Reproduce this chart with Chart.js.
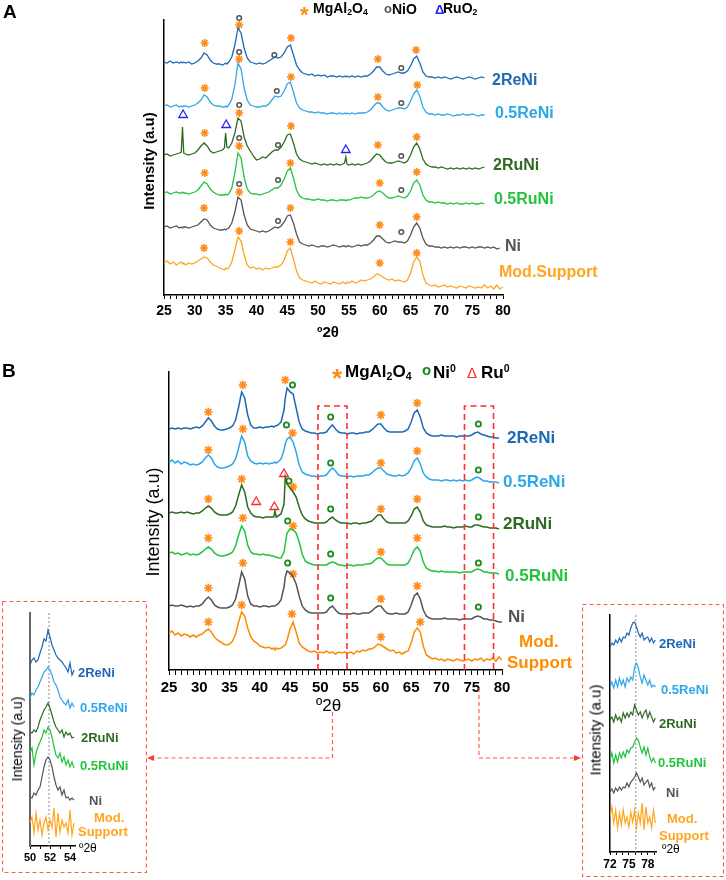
<!DOCTYPE html>
<html>
<head>
<meta charset="utf-8">
<script src="https://cdn.jsdelivr.net/npm/chart.js@4.4.0/dist/chart.umd.min.js"></script>
<style>
    body { margin: 0; width: 726px; height: 880px; position: relative; background: #fff; overflow: hidden;
           font-family: Arial, "Liberation Sans", sans-serif; }
    canvas { position: absolute; }
    .lbl { position: absolute; white-space: nowrap; line-height: 1; transform: translateY(-50%); }
    .rot { position: absolute; white-space: nowrap; line-height: 1; transform: translate(-50%, -50%) rotate(-90deg); }
    .lbl sub { font-size: 0.62em; vertical-align: -0.25em; }
    .lbl sup { font-size: 0.62em; vertical-align: 0.55em; }
</style>
</head>
<body>
<canvas id="chartA" width="726" height="340" style="left:0;top:0"></canvas>
<canvas id="chartB" width="726" height="540" style="left:0;top:340px"></canvas>
<canvas id="insetL" width="145" height="272" style="left:2px;top:601px"></canvas>
<canvas id="insetR" width="142" height="273" style="left:582px;top:604px"></canvas>

<script>
// ---------- Panel A : calcined samples (2θ grid, intensities in a.u. with vertical offsets) ----------
const twoThetaA = [
    25, 25.5, 26, 26.5, 27, 27.5, 27.8, 28, 28.2,
    28.5, 29, 29.5, 30, 30.5, 31, 31.5, 32, 32.5, 33, 33.5, 34, 34.5, 34.8, 35, 35.2,
    35.5, 36, 36.5, 37, 37.5, 38, 38.5, 39, 39.5, 40, 40.5, 41, 41.5, 42, 42.5, 43, 43.5, 44, 44.5, 45,
    45.5, 46, 46.5, 47, 47.5, 48, 48.5, 49, 49.5, 50, 50.5, 51, 51.5, 52, 52.5, 53, 53.5, 54, 54.3, 54.5, 54.7,
    55, 55.5, 56, 56.5, 57, 57.5, 58, 58.5, 59, 59.5, 60, 60.5, 61, 61.5, 62, 62.5, 63, 63.5, 64, 64.5, 65, 65.5, 66, 66.5, 67, 67.5,
    68, 68.5, 69, 69.5, 70, 70.5, 71, 71.5, 72, 72.5, 73, 73.5, 74, 74.5, 75, 75.5, 76, 76.5, 77, 77.5, 78, 78.5, 79, 79.5, 80
];
const a2ReNi = [
    233, 232, 234, 232, 233, 232, 233, 232, 233,
    232, 233, 231, 232, 234, 237, 242, 240, 235, 232, 231, 231, 230, 231, 232, 231,
    233, 238, 250, 267, 262, 247, 237, 233, 232, 231, 232, 231, 232, 234, 236, 238, 237, 238, 242, 248,
    250, 240, 230, 225, 222, 221, 220, 221, 219, 220, 219, 220, 218, 219, 219, 218, 219, 218, 219, 218, 219,
    218, 219, 218, 219, 218, 219, 219, 221, 224, 228, 228, 224, 221, 220, 221, 222, 223, 222, 222, 224, 229, 236, 239, 232, 223, 219,
    218, 218, 217, 218, 217, 218, 217, 216, 217, 218, 217, 216, 217, 218, 217, 216, 217, 218, 217, null, null, null, null, null, null
];
const a05ReNi = [
    189, 190, 188, 189, 190, 188, 189, 188, 189,
    189, 188, 189, 190, 192, 195, 200, 198, 193, 190, 189, 189, 188, 188, 189, 188,
    190, 196, 210, 232, 226, 207, 195, 190, 189, 188, 188, 189, 189, 191, 195, 199, 198, 199, 204, 211,
    213, 203, 192, 187, 185, 184, 183, 183, 182, 183, 182, 182, 181, 182, 182, 181, 182, 181, 182, 181, 182,
    181, 182, 181, 182, 182, 182, 183, 185, 189, 192, 192, 188, 185, 184, 185, 186, 187, 187, 186, 188, 194, 201, 205, 199, 188, 183,
    181, 181, 180, 181, 180, 180, 181, 180, 179, 180, 180, 181, 180, 180, 181, 180, 179, 180, 180, null, null, null, null, null, null
];
const a2RuNi = [
    140, 141, 139, 140, 141, 142, 143, 168, 142,
    141, 140, 141, 142, 145, 149, 152, 149, 144, 142, 143, 144, 145, 147, 162, 148,
    147, 152, 162, 177, 174, 158, 149, 144, 139, 135, 136, 138, 137, 140, 143, 145, 145, 148, 153, 160,
    161, 152, 141, 136, 134, 133, 132, 131, 132, 131, 130, 131, 130, 131, 130, 131, 130, 131, 132, 138, 131,
    130, 131, 130, 131, 130, 131, 132, 134, 138, 141, 140, 136, 133, 132, 132, 133, 134, 133, 132, 134, 140, 148, 152, 146, 136, 131,
    129, 128, 128, 127, 128, 127, 126, 127, 126, 127, 126, 127, 126, 127, 126, 127, 126, 127, 128, null, null, null, null, null, null
];
const a05RuNi = [
    102, 103, 101, 102, 103, 102, 102, 103, 102,
    102, 101, 102, 103, 105, 109, 113, 111, 106, 103, 101, 100, 100, 100, 101, 100,
    101, 107, 122, 142, 137, 118, 106, 102, 101, 101, 100, 101, 102, 103, 105, 107, 107, 110, 116, 124,
    127, 117, 105, 99, 97, 96, 96, 95, 95, 96, 95, 95, 94, 95, 95, 94, 95, 95, 95, 94, 95,
    95, 96, 97, 97, 98, 97, 97, 98, 100, 103, 104, 102, 99, 97, 97, 98, 99, 98, 97, 99, 104, 112, 115, 110, 100, 95,
    93, 93, 92, 93, 92, 92, 91, 92, 91, 92, 91, 91, 92, 91, 92, 91, 91, 92, 91, null, null, null, null, null, null
];
const aNi = [
    68, 69, 67, 68, 69, 67, 68, 67, 68,
    68, 67, 68, 69, 70, 73, 76, 75, 70, 67, 66, 65, 65, 66, 65, 66,
    67, 72, 83, 98, 95, 80, 70, 66, 65, 64, 63, 64, 63, 64, 66, 68, 67, 69, 73, 79,
    80, 72, 61, 53, 51, 50, 49, 50, 49, 48, 49, 49, 48, 49, 50, 49, 48, 49, 49, 48, 49,
    49, 48, 49, 50, 49, 50, 50, 52, 55, 59, 59, 56, 53, 52, 53, 54, 53, 53, 52, 54, 60, 68, 72, 67, 57, 51,
    49, 49, 48, 48, 47, 48, 47, 48, 47, 48, 47, 48, 48, 47, 48, 47, 48, 48, 47, 48, 47, 48, 46, 47, null
];
const aSupport = [
    32, 34, 31, 33, 30, 32, 33, 31, 32,
    30, 32, 31, 32, 34, 36, 38, 37, 33, 30, 29, 27, 26, 25, 27, 26,
    27, 33, 45, 58, 54, 40, 30, 27, 28, 26, 27, 25, 27, 26, 27, 28, 28, 30, 35, 44,
    47, 36, 24, 17, 15, 14, 13, 12, 14, 12, 11, 13, 12, 11, 13, 12, 11, 13, 12, 11, 13,
    12, 14, 12, 13, 15, 14, 15, 16, 18, 21, 20, 18, 16, 15, 16, 14, 15, 14, 13, 15, 22, 33, 38, 34, 20, 12,
    10, 9, 10, 8, 9, 10, 8, 9, 8, 7, 9, 8, 7, 9, 8, 7, 8, 7, 10, 7, 9, 6, 10, 6, 8
];
// phase markers [2θ, height]
const aSpinel = [
    [31.6, 252], [37.2, 270], [45.6, 257], [59.7, 236], [65.9, 245],
    [31.6, 207], [37.2, 236], [45.6, 218], [59.7, 198], [66.1, 210],
    [31.6, 162], [37.2, 182], [45.6, 169], [59.7, 150], [66, 158],
    [31.6, 122], [37.2, 149], [45.5, 132], [60, 112], [66, 123],
    [31.5, 87], [37.2, 103], [45.5, 87], [60, 70], [66, 78],
    [31.5, 47], [37.2, 64], [45.5, 53], [60, 32], [66, 42]
];
const aNiO = [
    [37.2, 277], [42.9, 240], [63.5, 227],
    [37.2, 243], [43.3, 204], [63.5, 192],
    [37.2, 190], [43.5, 150], [63.5, 139],
    [37.2, 157], [43.5, 115], [63.5, 105],
    [37.2, 111], [43.5, 74], [63.5, 63]
];
const aRuO2 = [[28.1, 180], [35.1, 170], [54.5, 145]];

// ---------- Panel B : reduced samples ----------
const twoThetaB = [
    25, 25.5, 26, 26.5, 27, 27.5, 28, 28.5, 29, 29.5, 30, 30.5, 31, 31.5, 32, 32.5, 33,
    33.5, 34, 34.5, 35, 35.5, 36, 36.5, 37, 37.5, 38, 38.5, 39, 39.5, 40, 40.5, 41, 41.5, 42,
    42.3, 42.5, 42.7, 43, 43.5, 44, 44.2,
    44.5, 45, 45.5, 46, 46.5, 47, 47.5, 48, 48.5, 49, 49.5, 50, 50.5, 51, 51.5, 52, 52.5, 53, 53.5, 54, 54.5, 55, 55.5, 56, 56.5, 57,
    57.5, 58, 58.5, 59, 59.5, 60, 60.5, 61, 61.5, 62, 62.5, 63, 63.5, 64, 64.5, 65, 65.5, 66, 66.5, 67, 67.5, 68, 68.5,
    69, 69.5, 70, 70.5, 71, 71.5, 72, 72.5, 73, 73.5, 74, 74.5, 75, 75.5, 76, 76.5, 77, 77.5, 78, 78.5, 79, 79.5, 80
];
const b2ReNi = [
    241, 242, 241, 242, 241, 242, 242, 241, 242, 243, 242, 244, 248, 252, 249, 244, 241,
    240, 240, 241, 242, 244, 250, 263, 278, 272, 255, 245, 242, 242, 243, 242, 243, 243, 244,
    243, 244, 244, 245, 248, 260, 272,
    282, 278, 276, 262, 248, 241, 239, 238, 237, 237, 236, 237, 237, 238, 242, 245, 241, 238, 237, 237, 236, 237, 237, 236, 237, 237,
    238, 238, 240, 243, 246, 246, 242, 239, 238, 238, 238, 238, 238, 239, 241, 248, 257, 260, 253, 242, 237, 235, 234,
    234, 234, 235, 234, 234, 234, 234, 233, 234, 234, 234, 234, 235, 237, 238, 236, 235, 234, 233, 233, 232, 232, null
];
const b05ReNi = [
    208, 210, 207, 209, 206, 208, 207, 205, 206, 205, 206, 208, 212, 215, 212, 206, 203,
    202, 202, 203, 204, 206, 211, 222, 234, 228, 214, 209, 207, 206, 207, 206, 207, 206, 207,
    207, 208, 207, 208, 211, 220, 226,
    231, 233, 228, 218, 205, 198, 196, 195, 194, 194, 193, 194, 194, 195, 199, 202, 199, 195, 194, 194, 193, 194, 193, 194, 194, 194,
    195, 195, 197, 200, 202, 202, 199, 196, 195, 194, 194, 195, 194, 195, 197, 202, 209, 212, 206, 197, 193, 191, 190,
    190, 190, 189, 190, 190, 189, 190, 189, 190, 189, 190, 189, 190, 192, 193, 191, 189, 189, 188, 188, 188, 187, null
];
const b2RuNi = [
    157, 158, 157, 157, 158, 157, 158, 157, 156, 157, 157, 159, 162, 164, 162, 158, 156,
    155, 155, 155, 156, 158, 164, 175, 185, 178, 163, 157, 154, 153, 153, 152, 153, 153, 153,
    153, 159, 153, 154, 156, 166, 193,
    186, 182, 178, 173, 163, 155, 151, 149, 148, 147, 147, 147, 147, 148, 151, 153, 150, 148, 147, 147, 147, 146, 147, 147, 146, 147,
    147, 148, 149, 152, 155, 155, 151, 148, 147, 147, 147, 147, 147, 147, 149, 154, 161, 163, 158, 149, 145, 144, 143,
    143, 143, 143, 144, 143, 143, 142, 143, 143, 143, 144, 143, 143, 145, 145, 144, 143, 143, 142, 142, 142, 141, null
];
const b05RuNi = [
    117, 118, 116, 117, 115, 116, 117, 115, 116, 115, 116, 118, 121, 123, 121, 117, 115,
    114, 114, 115, 116, 118, 124, 135, 144, 139, 125, 118, 116, 116, 115, 116, 115, 115, 114,
    114, 113, 113, 112, 112, 118, 126,
    137, 141, 140, 137, 128, 116, 109, 107, 106, 105, 105, 105, 105, 105, 107, 108, 107, 105, 105, 104, 105, 105, 104, 105, 105, 105,
    106, 106, 107, 110, 112, 112, 109, 106, 105, 105, 105, 105, 105, 105, 107, 113, 120, 123, 119, 108, 102, 100, 99,
    99, 98, 99, 98, 98, 98, 98, 98, 97, 98, 98, 98, 98, 100, 101, 100, 98, 98, 97, 97, 97, 96, null
];
const bNi = [
    64, 65, 64, 64, 65, 64, 63, 64, 63, 64, 64, 66, 70, 73, 70, 65, 63,
    62, 62, 62, 63, 65, 71, 84, 98, 91, 74, 66, 64, 64, 63, 64, 64, 63, 64,
    64, 64, 65, 66, 70, 83, 93,
    99, 97, 93, 86, 74, 64, 60, 58, 57, 57, 57, 57, 57, 58, 62, 64, 60, 57, 56, 56, 56, 56, 57, 56, 56, 57,
    57, 57, 59, 62, 64, 64, 60, 57, 56, 56, 57, 56, 56, 56, 58, 65, 74, 77, 71, 60, 54, 52, 51,
    51, 51, 51, 52, 51, 51, 51, 51, 50, 51, 51, 51, 51, 53, 54, 53, 51, 51, 50, 50, 49, 48, 48
];
const bSupport = [
    37, 39, 35, 37, 34, 36, 35, 33, 35, 33, 35, 36, 39, 41, 38, 33, 30,
    28, 26, 25, 26, 29, 36, 48, 58, 54, 42, 33, 29, 27, 24, 23, 22, 23, 21,
    22, 20, 22, 21, 22, 24, 25,
    30, 41, 48, 38, 27, 23, 21, 19, 18, 19, 17, 18, 17, 19, 17, 18, 16, 18, 17, 18, 17, 18, 16, 19, 18, 20,
    19, 21, 21, 23, 26, 25, 23, 21, 19, 20, 17, 18, 16, 18, 19, 27, 38, 42, 38, 24, 15, 13, 11,
    12, 10, 11, 9, 11, 10, 9, 11, 10, 9, 10, 11, 9, 11, 10, 12, 9, 11, 10, 12, 9, 13, 10
];
const bSpinel = [
    [31.5, 258], [37.2, 285], [44.2, 290], [60, 255], [66, 267],
    [31.5, 220], [37.2, 241], [45.4, 237], [60, 207], [66, 219],
    [31.5, 171], [37, 191], [45.5, 183], [60, 161], [66, 171],
    [31.5, 132], [37.2, 152], [45.5, 144], [60, 118], [66, 132],
    [31.5, 82], [37.2, 107], [45.5, 96], [60, 71], [66, 84],
    [31.5, 48], [37, 65], [45.3, 56], [60, 33], [66.5, 48]
];
const bNi0 = [
    [45.4, 285], [51.7, 253], [76.1, 246],
    [44.4, 245], [51.7, 207], [76.1, 200],
    [44.8, 189], [51.7, 161], [76.1, 153],
    [44.6, 149], [51.7, 116], [76.1, 107],
    [44.6, 107], [51.7, 72], [76.1, 63]
];
const bRu0 = [[39.4, 168], [42.4, 163], [44.0, 196]];
const zoomRanges = [[49.6, 54.4], [73.8, 78.6]];
const zoomTop = 264;

// ---------- Inset: Ni(200) region ----------
const twoThetaL = [50, 50.2, 50.4, 50.6, 50.8, 51, 51.2, 51.4, 51.6, 51.8, 52, 52.2, 52.4, 52.6, 52.8, 53, 53.2, 53.4, 53.6, 53.8, 54, 54.2, 54.4];
const l2ReNi = [181, 186, 188, 184, 186, 193, 199, 207, 205, 216, 209, 201, 196, 191, 188, 186, 184, 181, 178, 174, 183, 171, 176];
const l05ReNi = [148, 153, 151, 156, 159, 164, 169, 174, 176, 179, 176, 171, 164, 161, 156, 149, 146, 143, 141, 146, 138, 143, 139];
const l2RuNi = [114, 113, 116, 114, 119, 126, 131, 136, 139, 143, 138, 131, 124, 119, 116, 113, 116, 109, 114, 111, 113, 108, 109];
const l05RuNi = [93, 98, 81, 93, 99, 104, 109, 116, 113, 119, 116, 109, 99, 91, 88, 93, 84, 89, 81, 86, 79, 84, 78];
const lNi = [49, 48, 53, 51, 56, 59, 69, 79, 86, 89, 86, 79, 69, 61, 56, 59, 51, 56, 48, 49, 46, 48, 46];
const lSupport = [23, 29, 13, 33, 16, 26, 11, 23, 29, 16, 26, 19, 38, 9, 33, 14, 26, 19, 23, 13, 36, 11, 23];

// ---------- Inset: Ni(220) region ----------
const twoThetaR = [72, 72.3, 72.6, 72.9, 73.2, 73.5, 73.8, 74.1, 74.4, 74.7, 75, 75.3, 75.6, 75.9, 76.2, 76.5, 76.8, 77.1, 77.4, 77.7, 78, 78.3, 78.6, 78.9, 79.2];
const r2ReNi = [205, 209, 207, 212, 209, 214, 210, 215, 214, 219, 217, 224, 229, 230, 225, 219, 215, 219, 212, 214, 215, 210, 214, 209, 212];
const r05ReNi = [165, 170, 164, 172, 165, 174, 167, 172, 165, 174, 170, 175, 172, 185, 189, 184, 175, 169, 177, 172, 167, 172, 165, 167, 165];
const r2RuNi = [132, 135, 130, 137, 132, 135, 130, 139, 134, 139, 135, 140, 137, 147, 142, 137, 140, 134, 139, 142, 134, 140, 135, 130, 134];
const r05RuNi = [92, 99, 89, 97, 90, 99, 94, 100, 95, 102, 99, 104, 105, 110, 114, 112, 105, 99, 105, 97, 104, 95, 90, 94, 89];
const rNi = [60, 63, 59, 64, 61, 65, 62, 65, 64, 69, 65, 70, 72, 75, 79, 75, 70, 74, 67, 70, 72, 65, 69, 62, 65];
const rSupport = [35, 45, 29, 42, 24, 39, 27, 42, 29, 35, 25, 40, 30, 42, 24, 39, 29, 49, 22, 45, 29, 35, 24, 42, 29];

// colours
const c2ReNi = '#1d69b6', c05ReNi = '#2ea7e8', c2RuNi = '#2f6a22', c05RuNi = '#22c33d', cNi = '#555555';
const cSupA = '#ffa51f', cSupB = '#ff8c00';
const cStar = '#ff8c1a';

Chart.defaults.font.family = 'Arial, "Liberation Sans", sans-serif';
Chart.defaults.color = '#000';

function lineSet(xs, ys, color, width) {
    return {
        type: 'line',
        data: xs.map((x, i) => ({ x: x, y: ys[i] })),
        borderColor: color, borderWidth: width, pointRadius: 0, tension: 0, fill: false, spanGaps: false
    };
}

function markSet(points, style, color, radius, width) {
    return {
        type: 'scatter',
        data: points.map(p => ({ x: p[0], y: p[1] })),
        pointStyle: style, pointRadius: radius, pointHoverRadius: radius,
        pointBorderColor: color, pointBackgroundColor: 'rgba(0,0,0,0)', pointBorderWidth: width,
        borderColor: color, backgroundColor: 'rgba(0,0,0,0)', clip: false
    };
}

function xAxis(min, max, every, fontSize, tickLen, height, pad) {
    return {
        type: 'linear', min: min, max: max,
        afterFit: s => { s.height = height; },
        // one tick per degree, whole degrees only
        afterBuildTicks: s => {
            const ticks = [];
            for (let v = Math.ceil(min); v <= Math.floor(max); v++) ticks.push({ value: v });
            s.ticks = ticks;
        },
        border: { color: '#000', width: 1.5 },
        grid: { drawOnChartArea: false, drawTicks: true, tickLength: tickLen, color: '#000', lineWidth: 1 },
        ticks: {
            autoSkip: false, maxRotation: 0, padding: pad, color: '#000',
            font: { size: fontSize, weight: 'bold' },
            callback: v => {
                const r = Math.round(v);
                return (Math.abs(v - r) < 1e-6 && r % every === 0) ? String(r) : '';
            }
        }
    };
}

function yAxis(max, color, width) {
    return {
        min: 0, max: max,
        afterFit: s => { s.width = 0; },
        ticks: { display: false },
        grid: { display: false },
        border: { color: color, width: width }
    };
}

function makeChart(id, datasets, x, y, padding, plugins) {
    return new Chart(document.getElementById(id), {
        type: 'line',
        data: { datasets: datasets },
        options: {
            responsive: false, animation: false, devicePixelRatio: 1, events: [],
            layout: { padding: padding },
            plugins: { legend: { display: false }, tooltip: { enabled: false } },
            scales: { x: x, y: y }
        },
        plugins: plugins || []
    });
}

// dashed zoom boxes and the connectors to the insets
const zoomDeco = {
    id: 'zoomDeco',
    afterDraw(chart) {
        const { ctx, scales: { x, y } } = chart;
        ctx.save();
        ctx.strokeStyle = '#ff2d2d';
        ctx.lineWidth = 1.6;
        ctx.setLineDash([6, 4]);
        const top = y.getPixelForValue(zoomTop);
        zoomRanges.forEach(([a, b]) => {
            const x1 = x.getPixelForValue(a), x2 = x.getPixelForValue(b);
            ctx.beginPath();
            ctx.moveTo(x1, y.bottom); ctx.lineTo(x1, top); ctx.lineTo(x2, top); ctx.lineTo(x2, y.bottom);
            ctx.stroke();
        });
        // canvas starts at page y 340
        const cy = 418;
        const lx = x.getPixelForValue((zoomRanges[0][0] + zoomRanges[0][1]) / 2);
        const rx = x.getPixelForValue((zoomRanges[1][0] + zoomRanges[1][1]) / 2);
        ctx.strokeStyle = '#ff5a4a';
        ctx.lineWidth = 1.2;
        ctx.setLineDash([4, 3]);
        ctx.beginPath(); ctx.moveTo(lx, 372); ctx.lineTo(lx, cy); ctx.lineTo(153, cy); ctx.stroke();
        ctx.beginPath(); ctx.moveTo(rx, 348); ctx.lineTo(rx, cy); ctx.lineTo(575, cy); ctx.stroke();
        ctx.setLineDash([]);
        ctx.fillStyle = '#ff3b2f';
        ctx.beginPath(); ctx.moveTo(147, cy); ctx.lineTo(154, cy - 3); ctx.lineTo(154, cy + 3); ctx.closePath(); ctx.fill();
        ctx.beginPath(); ctx.moveTo(581, cy); ctx.lineTo(574, cy - 3); ctx.lineTo(574, cy + 3); ctx.closePath(); ctx.fill();
        ctx.restore();
    }
};

function insetDeco(markAt) {
    return {
        id: 'insetDeco',
        beforeDatasetsDraw(chart) {
            const { ctx, scales: { x, y } } = chart;
            const px = x.getPixelForValue(markAt);
            ctx.save();
            ctx.strokeStyle = '#8a8a8a';
            ctx.lineWidth = 1;
            ctx.setLineDash([2, 2]);
            ctx.beginPath(); ctx.moveTo(px, y.top); ctx.lineTo(px, y.bottom); ctx.stroke();
            ctx.restore();
        },
        afterDraw(chart) {
            const { ctx, width, height } = chart;
            ctx.save();
            ctx.strokeStyle = '#ff5a4a';
            ctx.lineWidth = 1.2;
            ctx.setLineDash([4, 3]);
            ctx.strokeRect(0.5, 0.5, width - 1, height - 1);
            ctx.restore();
        }
    };
}

// Panel A
makeChart('chartA', [
    lineSet(twoThetaA, a2ReNi, c2ReNi, 1.3),
    lineSet(twoThetaA, a05ReNi, c05ReNi, 1.3),
    lineSet(twoThetaA, a2RuNi, c2RuNi, 1.3),
    lineSet(twoThetaA, a05RuNi, c05RuNi, 1.3),
    lineSet(twoThetaA, aNi, cNi, 1.3),
    lineSet(twoThetaA, aSupport, cSupA, 1.3),
    markSet(aSpinel, 'star', cStar, 4, 1.6),
    markSet(aNiO, 'circle', '#555', 2.3, 1.5),
    markSet(aRuO2, 'triangle', '#2424ff', 5, 1.3)
], xAxis(25, 80, 5, 14, 4, 45, 4), yAxis(275, '#000', 1.5), { left: 164, right: 223, top: 20, bottom: 0 });

// Panel B
makeChart('chartB', [
    lineSet(twoThetaB, b2ReNi, c2ReNi, 1.5),
    lineSet(twoThetaB, b05ReNi, c05ReNi, 1.5),
    lineSet(twoThetaB, b2RuNi, c2RuNi, 1.5),
    lineSet(twoThetaB, b05RuNi, c05RuNi, 1.5),
    lineSet(twoThetaB, bNi, cNi, 1.5),
    lineSet(twoThetaB, bSupport, cSupB, 1.5),
    markSet(bSpinel, 'star', cStar, 4.3, 1.7),
    markSet(bNi0, 'circle', '#1a8c1a', 2.6, 1.8),
    markSet(bRu0, 'triangle', '#ff2a2a', 5, 1.3)
], xAxis(25, 80, 5, 15, 5, 210, 4), yAxis(298, '#000', 1.5), { left: 169, right: 224, top: 32, bottom: 0 }, [zoomDeco]);

// Insets
makeChart('insetL', [
    lineSet(twoThetaL, l2ReNi, c2ReNi, 1.2),
    lineSet(twoThetaL, l05ReNi, c05ReNi, 1.2),
    lineSet(twoThetaL, l2RuNi, c2RuNi, 1.2),
    lineSet(twoThetaL, l05RuNi, c05RuNi, 1.2),
    lineSet(twoThetaL, lNi, cNi, 1.2),
    lineSet(twoThetaL, lSupport, cSupA, 1.2)
], xAxis(50, 54.5, 2, 11, 3, 27, 2), yAxis(233, '#666', 2), { left: 28, right: 72, top: 12, bottom: 0 }, [insetDeco(51.9)]);

makeChart('insetR', [
    lineSet(twoThetaR, r2ReNi, c2ReNi, 1.2),
    lineSet(twoThetaR, r05ReNi, c05ReNi, 1.2),
    lineSet(twoThetaR, r2RuNi, c2RuNi, 1.2),
    lineSet(twoThetaR, r05RuNi, c05RuNi, 1.2),
    lineSet(twoThetaR, rNi, cNi, 1.2),
    lineSet(twoThetaR, rSupport, cSupA, 1.2)
], xAxis(72, 79.3, 3, 12, 3, 25, 2), yAxis(237, '#000', 1.5), { left: 28, right: 68, top: 11, bottom: 0 }, [insetDeco(76.1)]);

// ---------- texts ----------
const texts = [
    // html, left, centre y, size, colour, weight
    ['A', 3, 11, 19, '#000', 'bold'],
    ['*', 300, 15, 22, cStar, 'bold'],
    ['MgAl<sub>2</sub>O<sub>4</sub>', 313, 9, 14, '#000', 'bold'],
    ['o', 384, 8, 13, '#555', 'bold'],
    ['NiO', 392, 9, 14, '#000', 'bold'],
    ['Δ', 435, 9, 13, '#2424ff', 'bold'],
    ['RuO<sub>2</sub>', 443, 9, 14, '#000', 'bold'],
    ['º2θ', 317, 331, 15, '#000', 'bold'],
    ['2ReNi', 492, 80, 16, c2ReNi, 'bold'],
    ['0.5ReNi', 495, 113, 16, c05ReNi, 'bold'],
    ['2RuNi', 493, 165, 16, c2RuNi, 'bold'],
    ['0.5RuNi', 494, 199, 16, c05RuNi, 'bold'],
    ['Ni', 505, 246, 16, cNi, 'bold'],
    ['Mod.Support', 499, 272, 16, cSupA, 'bold'],

    ['B', 2, 370, 19, '#000', 'bold'],
    ['*', 332, 378, 26, cStar, 'bold'],
    ['MgAl<sub>2</sub>O<sub>4</sub>', 345, 372, 17, '#000', 'bold'],
    ['o', 422, 369, 15, '#1a8c1a', 'bold'],
    ['Ni<sup>0</sup>', 433, 372, 17, '#000', 'bold'],
    ['Δ', 467, 372, 15, '#ff2a2a', 'normal'],
    ['Ru<sup>0</sup>', 481, 372, 17, '#000', 'bold'],
    ['º2θ', 316, 705, 17, '#000', 'normal'],
    ['2ReNi', 507, 437, 17, c2ReNi, 'bold'],
    ['0.5ReNi', 503, 481, 17, c05ReNi, 'bold'],
    ['2RuNi', 503, 523, 17, c2RuNi, 'bold'],
    ['0.5RuNi', 505, 575, 17, c05RuNi, 'bold'],
    ['Ni', 508, 616, 17, cNi, 'bold'],
    ['Mod.', 519, 641, 17, cSupB, 'bold'],
    ['Support', 507, 662, 17, cSupB, 'bold'],

    ['2ReNi', 78, 672, 13, c2ReNi, 'bold'],
    ['0.5ReNi', 80, 707, 13, c05ReNi, 'bold'],
    ['2RuNi', 81, 737, 13, c2RuNi, 'bold'],
    ['0.5RuNi', 80, 765, 13, c05RuNi, 'bold'],
    ['Ni', 89, 800, 13, cNi, 'bold'],
    ['Mod.', 94, 817, 13, cSupA, 'bold'],
    ['Support', 78, 831, 13, cSupA, 'bold'],
    ['º2θ', 79, 848, 12, '#000', 'normal'],

    ['2ReNi', 659, 643, 13, c2ReNi, 'bold'],
    ['0.5ReNi', 661, 689, 13, c05ReNi, 'bold'],
    ['2RuNi', 659, 723, 13, c2RuNi, 'bold'],
    ['0.5RuNi', 658, 762, 13, c05RuNi, 'bold'],
    ['Ni', 666, 792, 13, cNi, 'bold'],
    ['Mod.', 667, 818, 13, cSupA, 'bold'],
    ['Support', 659, 835, 13, cSupA, 'bold'],
    ['º2θ', 662, 849, 12, '#000', 'normal']
];
texts.forEach(([html, x, y, size, color, weight]) => {
    const d = document.createElement('div');
    d.className = 'lbl';
    d.innerHTML = html;
    d.style.left = x + 'px';
    d.style.top = y + 'px';
    d.style.fontSize = size + 'px';
    d.style.color = color;
    d.style.fontWeight = weight;
    document.body.appendChild(d);
});

const titles = [
    // text, centre x, centre y, size, weight
    ['Intensity (a.u)', 148, 161, 15, 'bold'],
    ['Intensity (a.u)', 153, 522, 18, 'normal'],
    ['Intensity (a.u)', 17, 739, 14, 'normal'],
    ['Intensity (a.u)', 595, 730, 15, 'normal']
];
titles.forEach(([t, x, y, size, weight]) => {
    const d = document.createElement('div');
    d.className = 'rot';
    d.textContent = t;
    d.style.left = x + 'px';
    d.style.top = y + 'px';
    d.style.fontSize = size + 'px';
    d.style.fontWeight = weight;
    document.body.appendChild(d);
});
</script>
</body>
</html>
